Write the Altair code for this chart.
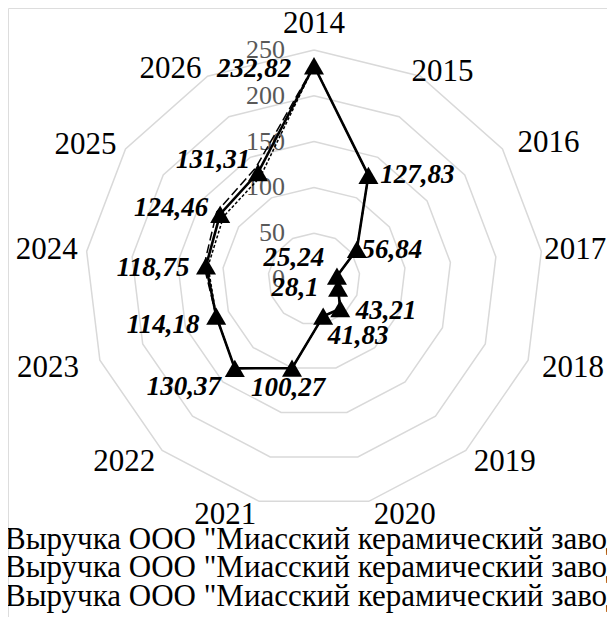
import math
import altair as alt
import pandas as pd

# ---- data ----
years = [str(y) for y in range(2014, 2027)]
revenue = [232.82, 127.83, 56.84, 25.24, 28.1, 43.21, 41.83, 100.27, 130.37,
           114.18, 118.75, 124.46, 131.31]
forecast_high = [232.82, 127.83, 56.84, 25.24, 28.1, 43.21, 41.83, 100.27, 130.37,
                 114.18, 121.0, 129.0, 137.0]
forecast_low = [232.82, 127.83, 56.84, 25.24, 28.1, 43.21, 41.83, 100.27, 130.37,
                114.18, 116.5, 120.0, 126.0]
value_labels = ["232,82", "127,83", "56,84", "25,24", "28,1", "43,21", "41,83",
                "100,27", "130,37", "114,18", "118,75", "124,46", "131,31"]
grid_levels = [50, 100, 150, 200, 250]
tick_values = [0, 50, 100, 150, 200, 250]
legend_names = [
    'Выручка ООО "Миасский керамический завод", млн руб.',
    'Выручка ООО "Миасский керамический завод" (оптимистичный прогноз), млн руб.',
    'Выручка ООО "Миасский керамический завод" (пессимистичный прогноз), млн руб.',
]

# ---- label placement (pixel offsets) ----
label_dx = [-60, 49, 35, -43, -43, 46, 35, -4, -51, -53, -53, -49, -45]
label_dy = [3, 0, 1, -18, 0, 2, 20, 20, 19, 9, 2, -6, -12]
cat_dx = [0, 22, 46, 34, 45, 39, 36, -34, -38, -52, -40, -40, -37]
cat_dy = [-26, -4, -6, -1, 8, 12, 14, 14, 12, 8, -1, -4, -7]
legend_y = [532, 560, 589]

# ---- geometry ----
N = len(years)
W, H = 599, 609
CX, CY = 306, 271          # centre of radar in svg pixels
PX = 229 / 250              # pixels per unit
xdom = [-CX / PX, (W - CX) / PX]
ydom = [-(H - CY) / PX, CY / PX]
RING = max(grid_levels)
FONT = "Liberation Serif"

xs = alt.Scale(domain=xdom, nice=False, zero=False)
ys = alt.Scale(domain=ydom, nice=False, zero=False)

rows = []
for name, vals in [("high", forecast_high), ("low", forecast_low), ("main", revenue)]:
    for k in range(N + 1):
        i = k % N
        rows.append({"series": name, "idx": i, "ord": k, "value": vals[i]})
series_df = pd.DataFrame(rows)

points_df = pd.DataFrame({"idx": list(range(N)), "value": revenue, "label": value_labels,
                          "dx": label_dx, "dy": label_dy})

grid_rows = []
for lv in grid_levels:
    for k in range(N + 1):
        grid_rows.append({"level": lv, "idx": k % N, "ord": k})
grid_df = pd.DataFrame(grid_rows)

cat_df = pd.DataFrame({"idx": list(range(N)), "year": years, "value": [RING] * N,
                       "dx": cat_dx, "dy": cat_dy})
tick_df = pd.DataFrame({"v": tick_values, "t": [str(v) for v in tick_values]})
legend_df = pd.DataFrame({"name": legend_names, "row": [0, 1, 2]})

ANG = f"datum.idx * 2 * PI / {N}"

def polar(chart, rfield):
    return chart.transform_calculate(
        ang=ANG
    ).transform_calculate(
        px=f"datum.{rfield} * sin(datum.ang)",
        py=f"datum.{rfield} * cos(datum.ang)",
    )

def shifted(chart):
    return chart.transform_calculate(
        lx=f"datum.px + datum.dx / {PX}",
        ly=f"datum.py - datum.dy / {PX}",
    )

enc_x = alt.X("px:Q", scale=xs, axis=None)
enc_y = alt.Y("py:Q", scale=ys, axis=None)
enc_lx = alt.X("lx:Q", scale=xs, axis=None)
enc_ly = alt.Y("ly:Q", scale=ys, axis=None)

grid = polar(alt.Chart(grid_df), "level").mark_line(
    color="#d9d9d9", strokeWidth=1.5
).encode(x=enc_x, y=enc_y, detail="level:N", order="ord:Q")

high = polar(alt.Chart(series_df).transform_filter("datum.series == 'high'"), "value").mark_line(
    color="black", strokeWidth=1.5, strokeDash=[9, 4]
).encode(x=enc_x, y=enc_y, order="ord:Q")

low = polar(alt.Chart(series_df).transform_filter("datum.series == 'low'"), "value").mark_line(
    color="black", strokeWidth=1.5, strokeDash=[3, 2]
).encode(x=enc_x, y=enc_y, order="ord:Q")

main = polar(alt.Chart(series_df).transform_filter("datum.series == 'main'"), "value").mark_line(
    color="black", strokeWidth=2.6
).encode(x=enc_x, y=enc_y, order="ord:Q")

markers = polar(alt.Chart(points_df), "value").mark_point(
    shape="triangle-up", filled=True, color="black", size=400, opacity=1
).encode(x=enc_x, y=enc_y)

labels = shifted(polar(alt.Chart(points_df), "value")).mark_text(
    font=FONT, fontSize=27, fontWeight="bold", fontStyle="italic", color="black",
    align="center", baseline="middle"
).encode(x=enc_lx, y=enc_ly, text="label:N")

cats = shifted(polar(alt.Chart(cat_df), "value")).mark_text(
    font=FONT, fontSize=31, color="black", align="center", baseline="middle"
).encode(x=enc_lx, y=enc_ly, text="year:N")

ticks = alt.Chart(tick_df).transform_calculate(
    px="0", py="datum.v"
).mark_text(
    font=FONT, fontSize=26, color="#595959", align="right", baseline="middle", dx=-29
).encode(x=enc_x, y=enc_y, text="t:N")

legend_layers = []
for r in range(3):
    legend_layers.append(
        alt.Chart(legend_df).transform_filter(f"datum.row == {r}").mark_text(
            font=FONT, fontSize=31, color="black", align="left", baseline="middle"
        ).encode(x=alt.value(-3), y=alt.value(legend_y[r]), text="name:N")
    )

chart = alt.layer(grid, ticks, cats, high, low, main, markers, labels, *legend_layers).properties(
    width=W, height=H, padding=0, autosize=alt.AutoSizeParams(type="none")
).configure_view(stroke=None).configure(background="white")

chart.save("out.html", embed_options={"renderer": "svg", "actions": False})
